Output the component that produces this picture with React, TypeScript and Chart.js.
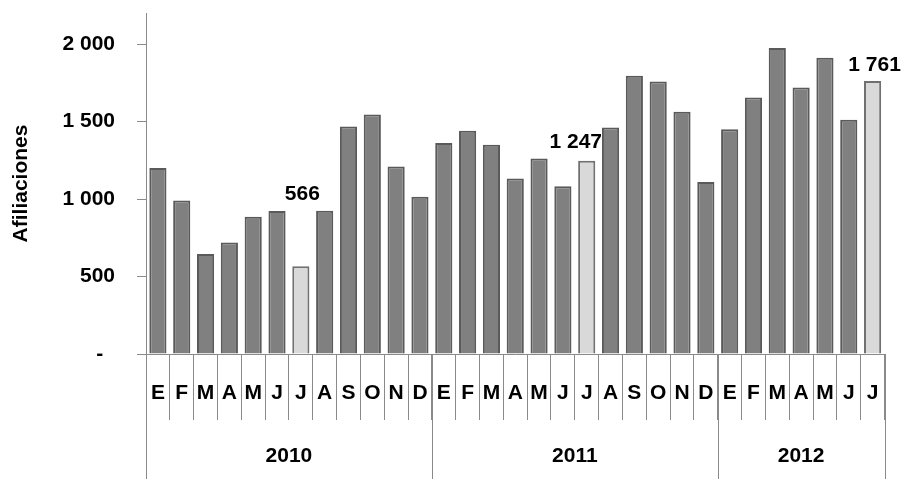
import React, { useEffect, useRef } from 'react';
import { Chart, registerables } from 'chart.js';

Chart.register(...registerables);

// ---- data ----
const months = [
  'E', 'F', 'M', 'A', 'M', 'J', 'J', 'A', 'S', 'O', 'N', 'D',
  'E', 'F', 'M', 'A', 'M', 'J', 'J', 'A', 'S', 'O', 'N', 'D',
  'E', 'F', 'M', 'A', 'M', 'J', 'J',
];
const years = ['2010', '2011', '2012'];
const monthsPerYear = [12, 12, 7];
const values2010 = [1200, 990, 645, 720, 885, 922, 566, 925, 1468, 1545, 1210, 1015];
const values2011 = [1362, 1440, 1350, 1133, 1262, 1082, 1247, 1462, 1795, 1758, 1563, 1110];
const values2012 = [1450, 1655, 1975, 1720, 1912, 1512, 1761];
const highlightedIndices = [6, 18, 30];
const yTickValues = [0, 500, 1000, 1500, 2000];
const yMax = 2200;
const axisTitle = 'Afiliaciones';

// ---- styles ----
const FONT = '"Liberation Sans", Arial, Helvetica, sans-serif';
const FONT_SIZE = 21;
const GRID = '#8a8a8a';
const BAR_FILL = '#808080';
const BAR_BORDER = '#5a5a5a';
const HI_FILL = '#d9d9d9';
const HI_BORDER = '#707070';
// label placement relative to bar top (dx, dy above)
const labelPlacement: Record<number, [number, number]> = {
  6: [1.5, 72],
  18: [-11, 19],
  30: [2, 16],
};

const allValues = [...values2010, ...values2011, ...values2012];

function fmt(v: number): string {
  if (v === 0) return '-\u00A0\u00A0';
  if (v >= 1000) {
    const th = Math.floor(v / 1000);
    const rest = String(v % 1000).padStart(3, '0');
    return `${th} ${rest}`;
  }
  return String(v);
}

const extrasPlugin = {
  id: 'extras',
  afterDraw(chart: any) {
    const { ctx, chartArea, scales } = chart;
    const xs = scales.x;
    const step = xs.getPixelForValue(1) - xs.getPixelForValue(0);
    const boundary = (i: number) => xs.getPixelForValue(i) - step / 2;
    ctx.save();
    ctx.strokeStyle = GRID;
    ctx.lineWidth = 1;
    ctx.fillStyle = '#000';
    ctx.font = `bold ${FONT_SIZE}px ${FONT}`;
    ctx.textAlign = 'center';
    ctx.textBaseline = 'middle';
    let start = 0;
    const edges = [0];
    monthsPerYear.forEach((n) => {
      start += n;
      edges.push(start);
    });
    edges.forEach((e) => {
      const px = Math.round(boundary(e)) + 0.5;
      ctx.beginPath();
      ctx.moveTo(px, chartArea.bottom);
      ctx.lineTo(px, chart.height);
      ctx.stroke();
    });
    years.forEach((y, k) => {
      const cx = (boundary(edges[k]) + boundary(edges[k + 1])) / 2;
      ctx.fillText(y, cx, 456);
    });
    // value labels
    const meta = chart.getDatasetMeta(0);
    highlightedIndices.forEach((i) => {
      const el = meta.data[i];
      const [dx, dy] = labelPlacement[i] || [0, 14];
      ctx.fillText(fmt(allValues[i]), el.x + dx, el.y - dy);
    });
    ctx.restore();
  },
};

export default function App() {
  const ref = useRef<HTMLCanvasElement | null>(null);

  useEffect(() => {
    if (!ref.current) return;
    const bg = allValues.map((_, i) => (highlightedIndices.includes(i) ? HI_FILL : BAR_FILL));
    const bc = allValues.map((_, i) => (highlightedIndices.includes(i) ? HI_BORDER : BAR_BORDER));
    const chart = new Chart(ref.current, {
      type: 'bar',
      data: {
        labels: months,
        datasets: [
          {
            data: allValues,
            backgroundColor: bg,
            borderColor: bc,
            borderWidth: 2,
            borderSkipped: 'bottom',
            barPercentage: 0.72,
            categoryPercentage: 1,
          },
        ],
      },
      options: {
        animation: false,
        responsive: false,
        devicePixelRatio: 1,
        layout: { padding: { top: 13, right: 19.5, left: 0, bottom: 0 } },
        plugins: {
          legend: { display: false },
          tooltip: { enabled: false },
        },
        scales: {
          x: {
            grid: {
              display: true,
              drawOnChartArea: false,
              drawTicks: true,
              tickLength: 66,
              color: GRID,
              lineWidth: 1,
              offset: true,
            },
            border: { display: true, color: GRID, width: 1 },
            ticks: {
              color: '#000',
              font: { family: FONT, size: FONT_SIZE, weight: 'bold' },
              padding: -39,
              maxRotation: 0,
              autoSkip: false,
            },
            afterFit: (s: any) => {
              s.height = 125;
              s.paddingLeft = 0;
              s.paddingRight = 0;
            },
          },
          y: {
            min: 0,
            max: yMax,
            afterBuildTicks: (s: any) => {
              s.ticks = yTickValues.map((v) => ({ value: v }));
            },
            grid: {
              display: true,
              drawOnChartArea: false,
              drawTicks: true,
              tickLength: 9,
              color: GRID,
            },
            border: { display: true, color: GRID, width: 1 },
            ticks: {
              color: '#000',
              font: { family: FONT, size: FONT_SIZE, weight: 'bold' },
              padding: 22,
              callback: (v: any) => fmt(Number(v)),
            },
            title: {
              display: true,
              text: axisTitle,
              color: '#000',
              font: { family: FONT, size: FONT_SIZE, weight: 'bold' },
              padding: { top: 9, bottom: 4 },
            },
            afterFit: (s: any) => {
              s.width = 146;
              s.paddingTop = 0;
              s.paddingBottom = 0;
            },
          },
        },
      },
      plugins: [extrasPlugin],
    });
    return () => chart.destroy();
  }, []);

  return (
    <div style={{ position: 'fixed', left: 0, top: 0, width: 904, height: 479, background: '#fff' }}>
      <canvas ref={ref} width={904} height={479} style={{ display: 'block' }} />
    </div>
  );
}
